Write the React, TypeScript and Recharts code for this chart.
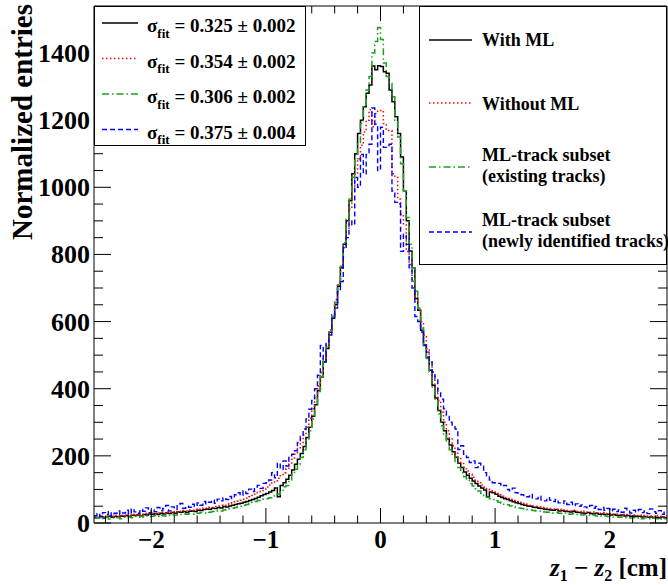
import React from 'react';
import { ComposedChart, Line, XAxis, YAxis } from 'recharts';

// histogram: 200 bins of 0.025 cm from -2.5 to 2.5
const BIN_WIDTH = 0.025;
const X_MIN = -2.5;
const X_MAX = 2.5;

const withMl = [
  17, 16, 19, 15, 18, 20, 17, 19, 18, 21,
  20, 22, 19, 23, 22, 24, 21, 25, 24, 27,
  26, 28, 25, 29, 27, 30, 28, 31, 29, 33,
  32, 34, 31, 35, 36, 34, 38, 37, 40, 42,
  41, 44, 43, 46, 45, 49, 48, 51, 53, 55,
  57, 59, 62, 64, 67, 70, 73, 77, 81, 85,
  88, 92, 97, 104, 78, 112, 120, 130, 142, 158,
  175, 190, 207, 228, 255, 285, 318, 352, 395, 435,
  480, 520, 568, 610, 650, 705, 760, 830, 900, 960,
  1040, 1100, 1160, 1200, 1240, 1280, 1305, 1361, 1350, 1362,
  1360, 1344, 1340, 1290, 1255, 1210, 1160, 1090, 990, 900,
  810, 760, 669, 634, 574, 529, 494, 455, 410, 372,
  335, 300, 275, 250, 232, 212, 196, 178, 165, 152,
  142, 133, 125, 118, 110, 104, 98, 78, 92, 90,
  86, 80, 76, 72, 70, 66, 63, 60, 58, 55,
  53, 51, 50, 47, 46, 44, 43, 41, 40, 39,
  38, 40, 36, 37, 35, 34, 33, 35, 32, 31,
  30, 29, 31, 28, 27, 29, 26, 27, 25, 26,
  24, 25, 23, 22, 24, 21, 22, 20, 21, 19,
  20, 18, 19, 17, 18, 16, 17, 15, 18, 16,
];

const withoutMl = [
  19, 17, 21, 18, 20, 22, 19, 23, 20, 22,
  23, 21, 25, 22, 26, 24, 27, 25, 28, 26,
  29, 27, 30, 32, 29, 33, 31, 34, 32, 35,
  34, 37, 36, 39, 38, 41, 40, 43, 45, 44,
  47, 46, 49, 51, 53, 52, 56, 58, 60, 63,
  65, 68, 71, 74, 78, 82, 86, 91, 96, 101,
  107, 113, 119, 126, 133, 141, 150, 162, 175, 190,
  205, 222, 240, 262, 285, 312, 340, 372, 408, 448,
  490, 530, 575, 620, 665, 715, 765, 820, 875, 935,
  990, 1040, 1085, 1125, 1165, 1200, 1231, 1180, 1220, 1229,
  1229, 1190, 1169, 1169, 1040, 1029, 965, 920, 888, 809,
  770, 720, 675, 640, 600, 560, 520, 480, 440, 400,
  365, 330, 300, 275, 250, 230, 212, 195, 180, 166,
  155, 145, 136, 128, 120, 113, 107, 101, 96, 92,
  88, 84, 80, 76, 73, 70, 67, 64, 62, 59,
  57, 55, 53, 51, 50, 48, 47, 45, 44, 43,
  42, 40, 41, 38, 39, 37, 36, 38, 35, 34,
  33, 35, 32, 31, 33, 30, 29, 31, 28, 27,
  28, 26, 27, 25, 26, 24, 25, 23, 24, 22,
  23, 21, 22, 20, 21, 19, 22, 20, 18, 21,
];

const mlExisting = [
  14, 16, 13, 15, 17, 12, 15, 14, 16, 13,
  17, 15, 18, 16, 19, 17, 20, 18, 21, 19,
  20, 22, 19, 23, 21, 24, 22, 25, 23, 26,
  25, 27, 26, 28, 27, 30, 29, 31, 30, 33,
  32, 34, 35, 37, 36, 39, 40, 42, 44, 46,
  48, 50, 53, 55, 58, 61, 64, 67, 71, 72,
  72, 75, 78, 82, 86, 95, 108, 112, 128, 145,
  160, 176, 195, 218, 245, 275, 310, 350, 392, 436,
  485, 525, 570, 615, 655, 710, 765, 835, 905, 965,
  1030, 1085, 1130, 1190, 1240, 1290, 1330, 1400, 1434, 1476,
  1440, 1370, 1330, 1310, 1270, 1200, 1150, 1070, 990, 910,
  830, 760, 690, 640, 580, 530, 490, 450, 405, 365,
  325, 290, 262, 238, 218, 200, 183, 165, 150, 138,
  128, 118, 110, 102, 95, 88, 82, 77, 72, 70,
  66, 62, 59, 56, 54, 51, 49, 47, 45, 43,
  42, 40, 39, 37, 36, 35, 34, 33, 32, 31,
  30, 31, 29, 28, 30, 27, 26, 28, 25, 26,
  24, 25, 23, 22, 24, 21, 22, 20, 21, 19,
  20, 18, 19, 17, 18, 16, 17, 15, 16, 14,
  15, 13, 16, 14, 12, 15, 13, 14, 11, 13,
];

const mlNew = [
  22, 28, 19, 31, 25, 34, 21, 29, 36, 26,
  30, 38, 27, 42, 33, 29, 40, 35, 45, 31,
  39, 34, 46, 37, 43, 52, 36, 48, 41, 55,
  58, 44, 50, 47, 56, 49, 60, 53, 64, 57,
  62, 68, 59, 71, 66, 75, 70, 79, 73, 84,
  90, 82, 96, 88, 101, 94, 107, 112, 103, 118,
  120, 128, 150, 135, 178, 160, 185, 170, 195, 205,
  215, 240, 258, 280, 310, 339, 365, 400, 440, 529,
  480, 540, 560, 610, 640, 690, 719, 819, 850, 900,
  888, 1029, 1000, 1098, 1040, 1098, 1128, 1236, 1188, 1050,
  1179, 1119, 1124, 1128, 989, 955, 950, 809, 860, 830,
  760, 700, 615, 600, 569, 530, 509, 483, 450, 429,
  390, 369, 340, 320, 300, 289, 280, 219, 230, 205,
  195, 180, 185, 165, 178, 169, 150, 140, 128, 120,
  118, 118, 110, 112, 100, 96, 104, 90, 86, 84,
  82, 78, 85, 74, 72, 80, 69, 66, 75, 68,
  64, 70, 60, 58, 66, 55, 62, 52, 57, 50,
  54, 48, 45, 52, 44, 49, 40, 46, 38, 43,
  36, 41, 34, 39, 32, 44, 35, 30, 38, 33,
  40, 31, 36, 28, 42, 34, 29, 37, 26, 32,
];

const xTicks = [
  -2.4, -2.2, -2, -1.8, -1.6, -1.4, -1.2, -1, -0.8, -0.6, -0.4, -0.2, 0,
  0.2, 0.4, 0.6, 0.8, 1, 1.2, 1.4, 1.6, 1.8, 2, 2.2, 2.4,
];
const xLabels = [-2, -1, 0, 1, 2];
const yTicks = [
  0, 50, 100, 150, 200, 250, 300, 350, 400, 450, 500, 550, 600, 650, 700, 750,
  800, 850, 900, 950, 1000, 1050, 1100, 1150, 1200, 1250, 1300, 1350, 1400, 1450, 1500,
];
const yLabels = [0, 200, 400, 600, 800, 1000, 1200, 1400];

const fitLabels = ['0.325 \u00b1 0.002', '0.354 \u00b1 0.002', '0.306 \u00b1 0.002', '0.375 \u00b1 0.004'];

const series = [
  { key: 'withMl', color: '#000000', dash: undefined, width: 1.5 },
  { key: 'withoutMl', color: '#ff0000', dash: '1.5 2.5', width: 1.5 },
  { key: 'mlExisting', color: '#1f9f1f', dash: '7 3 1.5 3', width: 1.5 },
  { key: 'mlNew', color: '#0000ff', dash: '5 3', width: 1.4 },
];

const rows = withMl.map((_, i) => ({
  x: X_MIN + i * BIN_WIDTH,
  withMl: withMl[i],
  withoutMl: withoutMl[i],
  mlExisting: mlExisting[i],
  mlNew: mlNew[i],
}));
rows.push({
  x: X_MAX,
  withMl: withMl[withMl.length - 1],
  withoutMl: withoutMl[withoutMl.length - 1],
  mlExisting: mlExisting[mlExisting.length - 1],
  mlNew: mlNew[mlNew.length - 1],
});

const FONT = "'Liberation Serif', 'Times New Roman', Times, serif";

const isX = (v: number) => xLabels.some((l) => Math.abs(l - v) < 1e-6);
const isY = (v: number) => yLabels.includes(v);

const BottomTick = (props: any) => {
  const { x, y, payload } = props;
  const v = payload.value;
  const major = isX(v);
  return (
    <g>
      <line x1={x} x2={x} y1={y} y2={y - (major ? 15 : 7.5)} stroke="#000" />
      {major && (
        <text x={x} y={y + 25} textAnchor="middle" fontSize={25} fontWeight="bold" fontFamily={FONT} fill="#000">
          {v < 0 ? `\u2212${-v}` : `${v}`}
        </text>
      )}
    </g>
  );
};

const TopTick = (props: any) => {
  const { x, y, payload } = props;
  const major = isX(payload.value);
  return <line x1={x} x2={x} y1={y} y2={y + (major ? 15 : 7.5)} stroke="#000" />;
};

const LeftTick = (props: any) => {
  const { x, y, payload } = props;
  const v = payload.value;
  const major = isY(v);
  return (
    <g>
      <line x1={x} x2={x + (major ? 17 : 9)} y1={y} y2={y} stroke="#000" />
      {major && (
        <text x={x - 4} y={y + 9} textAnchor="end" fontSize={26} fontWeight="bold" fontFamily={FONT} fill="#000">
          {v}
        </text>
      )}
    </g>
  );
};

const RightTick = (props: any) => {
  const { x, y, payload } = props;
  const major = isY(payload.value);
  return <line x1={x} x2={x - (major ? 17 : 9)} y1={y} y2={y} stroke="#000" />;
};

const Sample = ({ x1, x2, y, s }: any) => (
  <line x1={x1} x2={x2} y1={y} y2={y} stroke={s.color} strokeWidth={s.width} strokeDasharray={s.dash} />
);

const App = () => {
  return (
    <div style={{ position: 'absolute', left: 0, top: 0, width: 668, height: 585, background: '#fff' }}>
      <ComposedChart width={668} height={585} data={rows} margin={{ top: 0, right: 0, bottom: 0, left: 0 }}>
        <XAxis
          xAxisId="b"
          dataKey="x"
          type="number"
          domain={[X_MIN, X_MAX]}
          ticks={xTicks}
          interval={0}
          height={62}
          tickSize={0}
          tickMargin={0}
          tickLine={false}
          tick={BottomTick}
          axisLine={{ stroke: '#000' }}
          allowDataOverflow
        />
        <XAxis
          xAxisId="t"
          orientation="top"
          dataKey="x"
          type="number"
          domain={[X_MIN, X_MAX]}
          ticks={xTicks}
          interval={0}
          height={6}
          tickSize={0}
          tickMargin={0}
          tickLine={false}
          tick={TopTick}
          axisLine={{ stroke: '#000' }}
          allowDataOverflow
        />
        <YAxis
          yAxisId="l"
          type="number"
          domain={[0, 1540]}
          ticks={yTicks}
          interval={0}
          width={94}
          tickSize={0}
          tickMargin={0}
          tickLine={false}
          tick={LeftTick}
          axisLine={{ stroke: '#000' }}
          allowDataOverflow
        />
        <YAxis
          yAxisId="r"
          orientation="right"
          type="number"
          domain={[0, 1540]}
          ticks={yTicks}
          interval={0}
          width={1}
          tickSize={0}
          tickMargin={0}
          tickLine={false}
          tick={RightTick}
          axisLine={{ stroke: '#000' }}
          allowDataOverflow
        />
        {series.map((s) => (
          <Line
            key={s.key}
            xAxisId="b"
            yAxisId="l"
            dataKey={s.key}
            type="stepAfter"
            stroke={s.color}
            strokeWidth={s.width}
            strokeDasharray={s.dash}
            dot={false}
            activeDot={false}
            isAnimationActive={false}
          />
        ))}
      </ComposedChart>
      <svg
        width={668}
        height={585}
        style={{ position: 'absolute', left: 0, top: 0, pointerEvents: 'none' }}
        fontFamily={FONT}
      >
        {/* left legend */}
        <rect x={94.5} y={6.5} width={211} height={139} fill="#fff" stroke="#000" />
        {series.map((s, i) => {
          const y = 23 + i * 35.5;
          return (
            <g key={s.key}>
              <Sample x1={102} x2={138} y={y} s={s} />
              <text x={147} y={y + 9} fontSize={19} fontWeight="bold" fill="#000">
                <tspan>{'\u03c3'}</tspan>
                <tspan fontSize={13} dy={5.5}>fit</tspan>
                <tspan dy={-5.5}>{` = ${fitLabels[i]}`}</tspan>
              </text>
            </g>
          );
        })}
        {/* right legend */}
        <rect x={419.5} y={6.5} width={247} height={258} fill="#fff" stroke="#000" />
        <Sample x1={429} x2={472} y={40} s={series[0]} />
        <text x={482} y={46} fontSize={18} fontWeight="bold">With ML</text>
        <Sample x1={429} x2={472} y={103} s={series[1]} />
        <text x={482} y={110} fontSize={18} fontWeight="bold">Without ML</text>
        <Sample x1={429} x2={472} y={167} s={series[2]} />
        <text x={482} y={161} fontSize={18} fontWeight="bold">ML-track subset</text>
        <text x={482} y={182} fontSize={18} fontWeight="bold">(existing tracks)</text>
        <Sample x1={429} x2={472} y={232} s={series[3]} />
        <text x={482} y={226} fontSize={18} fontWeight="bold">ML-track subset</text>
        <text x={482} y={247} fontSize={18} fontWeight="bold">(newly identified tracks)</text>
        {/* axis titles */}
        <text
          transform="translate(32, 4) rotate(-90)"
          textAnchor="end"
          fontSize={29}
          fontWeight="bold"
          fill="#000"
        >
          Normalized entries
        </text>
        <text x={667} y={576} textAnchor="end" fontSize={25} fontWeight="bold" fill="#000">
          <tspan fontStyle="italic">z</tspan>
          <tspan fontSize={16} dy={5}>1</tspan>
          <tspan dy={-5}>{' \u2212 '}</tspan>
          <tspan fontStyle="italic">z</tspan>
          <tspan fontSize={16} dy={5}>2</tspan>
          <tspan dy={-5}>{' [cm]'}</tspan>
        </text>
      </svg>
    </div>
  );
};

export default App;
